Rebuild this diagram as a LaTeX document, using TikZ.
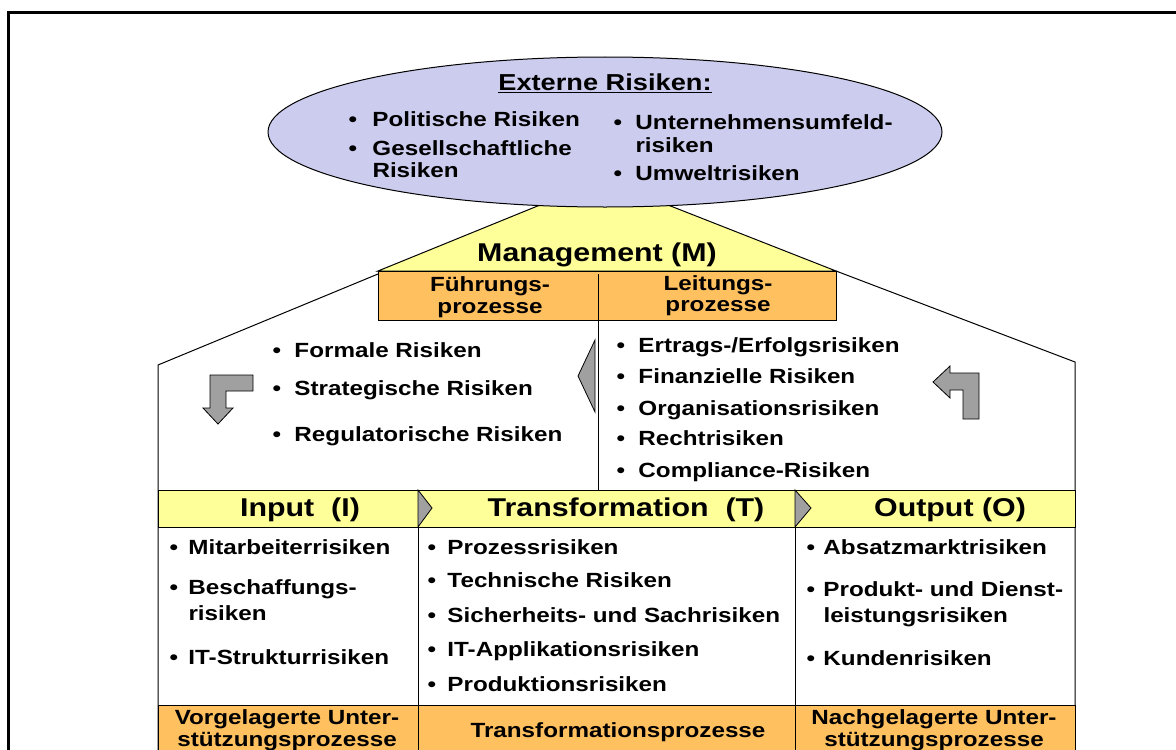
\documentclass[tikz,border=0pt]{standalone}
\usepackage{fontspec}
\setmainfont{Liberation Sans}[FakeStretch=1.18]
\usepackage{tikz}
\usetikzlibrary{shapes.geometric, positioning}
\definecolor{lav}{RGB}{204,204,238}
\definecolor{ylw}{RGB}{255,255,153}
\definecolor{org}{RGB}{255,192,96}
\definecolor{gry}{RGB}{160,160,160}
\newcommand{\bul}[1][16.5pt]{\makebox[#1][l]{\textbullet}}
\tikzset{
txt/.style={font=\bfseries\fontsize{15.4}{18}\selectfont, inner sep=0pt, anchor=base west},
lbl/.style={txt, anchor=base},
head/.style={font=\bfseries\fontsize{19.3}{23}\selectfont, inner sep=0pt, anchor=base},
bentarrow/.style={draw=black, fill=gry, line width=0.6pt}
}

\begin{document}
\begin{tikzpicture}[x=0.75pt, y=-0.75pt, line width=0.75pt]
\useasboundingbox (0,0) rectangle (1176,749);
\clip (0,0) rectangle (1176,749);
%----------------------------------------------------------------------------
% Frame, roof and table
\draw[line width=2.25pt] (8,760) -- (8,12.5) -- (1180,12.5);
\draw[fill=ylw] (540,205) -- (378,271) -- (836,271) -- (668,205);
\node (ext) [ellipse, draw, fill=lav, minimum width=505.5pt, minimum height=112.5pt, inner sep=0pt] at (605,132) {};
\draw[fill=org] (378,271) rectangle (836,320);
\draw (378,274) -- (158,365) -- (158,760);
\draw (836,271) -- (1075,362) -- (1075,760);
\draw (598,274) -- (598,490);
\draw[fill=ylw] (158,490) rectangle (1075,527);
\draw[fill=org] (158,705) rectangle (1075,760);
\draw (418,490) -- (418,760);
\draw (795,490) -- (795,760);

%----------------------------------------------------------------------------
% Arrows
\draw[bentarrow] (418,490) -- (432,508) -- (418,527) -- cycle;
\draw[bentarrow] (795,490) -- (811,508) -- (795,527) -- cycle;
\draw[bentarrow] (595,340) -- (578,376) -- (595,412) -- cycle;
\draw[bentarrow] (253,375) -- (210,375) -- (210,408) -- (203,408) -- (218,424)
  -- (233,408) -- (226,408) -- (226,391) -- (253,391) -- cycle;
\draw[bentarrow] (979,419) -- (979,373) -- (950,373) -- (950,366) -- (933,382)
  -- (950,398) -- (950,390) -- (963,390) -- (963,419) -- cycle;

%----------------------------------------------------------------------------
% Placement of text nodes
\node (extT) [head, font=\bfseries\fontsize{17.3}{20}\selectfont] at (605,90) {\underline{Externe Risiken:}};
\node (ex1) [txt] at (348,126) {\bul[18pt]Politische Risiken};
\node (ex2) [txt] at (348,155) {\bul[18pt]Gesellschaftliche};
\node (ex2b) [txt] at (372,177) {Risiken};
\node (ex3) [txt] at (613,129) {\bul Unternehmensumfeld-};
\node (ex3b) [txt] at (635,152) {risiken};
\node (ex4) [txt] at (613,180) {\bul Umweltrisiken};

\node (mgmt) [head] at (597,261) {Management (M)};
\node (fp1) [lbl] at (490,291) {Führungs-};
\node (fp2) [lbl] at (490,313) {prozesse};
\node (lp1) [lbl] at (718,290) {Leitungs-};
\node (lp2) [lbl] at (718,311) {prozesse};

\node (fr1) [txt] at (272,357) {\bul Formale Risiken};
\node (fr2) [txt] at (272,395) {\bul Strategische Risiken};
\node (fr3) [txt] at (272,441) {\bul Regulatorische Risiken};

\node (lr1) [txt] at (616,352) {\bul Ertrags-/Erfolgsrisiken};
\node (lr2) [txt] at (616,383) {\bul Finanzielle Risiken};
\node (lr3) [txt] at (616,415) {\bul Organisationsrisiken};
\node (lr4) [txt] at (616,445) {\bul Rechtrisiken};
\node (lr5) [txt] at (616,477) {\bul Compliance-Risiken};

\node (inp) [head] at (300,516) {Input\ \ (I)};
\node (trf) [head] at (626,516) {Transformation\ \ (T)};
\node (outp) [head] at (950,516) {Output (O)};

\node (ir1) [txt] at (169,554) {\bul[14.25pt]Mitarbeiterrisiken};
\node (ir2) [txt] at (169,594) {\bul[14.25pt]Beschaffungs-};
\node (ir2b) [txt] at (188,620) {risiken};
\node (ir3) [txt] at (169,664) {\bul[14.25pt]IT-Strukturrisiken};

\node (tr1) [txt] at (427,554) {\bul[15pt]Prozessrisiken};
\node (tr2) [txt] at (427,587) {\bul[15pt]Technische Risiken};
\node (tr3) [txt] at (427,622) {\bul[15pt]Sicherheits- und Sachrisiken};
\node (tr4) [txt] at (427,656) {\bul[15pt]IT-Applikationsrisiken};
\node (tr5) [txt] at (427,691) {\bul[15pt]Produktionsrisiken};

\node (or1) [txt] at (806,554) {\bul[12.75pt]Absatzmarktrisiken};
\node (or2) [txt] at (806,596) {\bul[12.75pt]Produkt- und Dienst-};
\node (or2b) [txt] at (823,622) {leistungsrisiken};
\node (or3) [txt] at (806,665) {\bul[12.75pt]Kundenrisiken};

\node (vu1) [lbl] at (287,724) {Vorgelagerte Unter-};
\node (vu2) [lbl] at (287,746) {stützungsprozesse};
\node (tp) [lbl] at (618,737) {Transformationsprozesse};
\node (nu1) [lbl] at (934,724) {Nachgelagerte Unter-};
\node (nu2) [lbl] at (934,746) {stützungsprozesse};

\end{tikzpicture}
\end{document}
